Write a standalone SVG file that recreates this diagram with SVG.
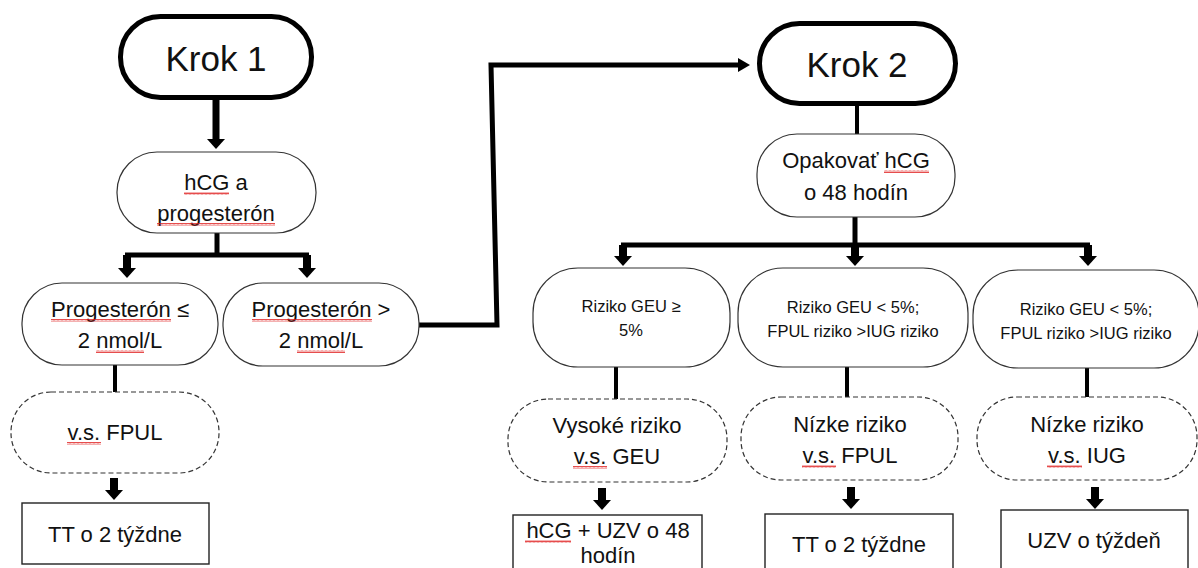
<svg xmlns="http://www.w3.org/2000/svg" width="1198" height="568" viewBox="0 0 1198 568">
<style>
text{font-family:"Liberation Sans",Arial,sans-serif;fill:#111;text-anchor:middle}
.k{font-size:35px}
.m{font-size:22px}
.s{font-size:16.5px}
.thick{fill:#fff;stroke:#000;stroke-width:5}
.thin{fill:#fff;stroke:#333;stroke-width:1.2}
.dash{fill:#fff;stroke:#333;stroke-width:1.2;stroke-dasharray:5 3}
.box{fill:#fff;stroke:#222;stroke-width:1.4}
.c{fill:none;stroke:#000;stroke-linejoin:miter}
.sq{fill:url(#wave)}
</style>
<defs>
<marker id="ah" viewBox="0 0 10 18" refX="0" refY="9" markerWidth="10" markerHeight="18" markerUnits="userSpaceOnUse" orient="auto">
<path d="M0,0 L10,9 L0,18 z" fill="#000"/>
</marker>
<marker id="ahs" viewBox="0 0 12 14" refX="0" refY="7" markerWidth="12" markerHeight="14" markerUnits="userSpaceOnUse" orient="auto">
<path d="M0,0 L12,7 L0,14 z" fill="#000"/>
</marker>
<pattern id="wave" width="4" height="3" patternUnits="userSpaceOnUse">
<path d="M0,2.5 L1,0.5 L2,2.5 L3,0.5 L4,2.5" fill="none" stroke="#e02020" stroke-width="0.8"/>
</pattern>
</defs>

<g id="connectors">
<path class="c" d="M216,100 V139" stroke-width="7" marker-end="url(#ah)"/>
<path class="c" d="M217,233 V255" stroke-width="5"/>
<path class="c" d="M125,255 H309" stroke-width="5"/>
<path class="c" d="M127,255 V268" stroke-width="8" marker-end="url(#ah)"/>
<path class="c" d="M307,255 V268" stroke-width="8" marker-end="url(#ah)"/>
<path class="c" d="M419,325 H497 L491,65 H738" stroke-width="5" marker-end="url(#ahs)"/>
<path class="c" d="M857,106 V134" stroke-width="4"/>
<path class="c" d="M855,217 V245" stroke-width="5"/>
<path class="c" d="M621,245 H1090" stroke-width="5"/>
<path class="c" d="M623,245 V256" stroke-width="8" marker-end="url(#ah)"/>
<path class="c" d="M855,245 V256" stroke-width="8" marker-end="url(#ah)"/>
<path class="c" d="M1088,245 V256" stroke-width="8" marker-end="url(#ah)"/>
<path class="c" d="M115,365 V392" stroke-width="4"/>
<path class="c" d="M114,478 V490" stroke-width="8" marker-end="url(#ah)"/>
<path class="c" d="M616,367 V399" stroke-width="4"/>
<path class="c" d="M847,367 V397" stroke-width="4"/>
<path class="c" d="M1087,368 V397" stroke-width="4"/>
<path class="c" d="M602,488 V500" stroke-width="8" marker-end="url(#ah)"/>
<path class="c" d="M851,487 V499" stroke-width="8" marker-end="url(#ah)"/>
<path class="c" d="M1095,487 V499" stroke-width="8" marker-end="url(#ah)"/>
</g>

<g id="krok1">
<rect class="thick" x="120.5" y="16.5" width="191" height="81" rx="40"/>
<text class="k" x="216" y="71">Krok 1</text>
</g>

<g id="hcg-progesteron">
<rect class="thin" x="117" y="152" width="199" height="81" rx="40"/>
<text class="m" x="216" y="190">hCG a</text>
<text class="m" x="216" y="221">progesterón</text>
<rect class="sq" x="184" y="192" width="45" height="3"/>
<rect class="sq" x="157" y="223" width="118" height="3"/>
</g>

<g id="prog-low">
<rect class="thin" x="22" y="283" width="196" height="82" rx="40"/>
<text class="m" x="120" y="317">Progesterón ≤</text>
<text class="m" x="120" y="348">2 nmol/L</text>
<rect class="sq" x="51" y="319" width="120" height="3"/>
<rect class="sq" x="96" y="350" width="48" height="3"/>
</g>

<g id="prog-high">
<rect class="thin" x="223" y="283" width="196" height="83" rx="40"/>
<text class="m" x="321" y="317">Progesterón &gt;</text>
<text class="m" x="321" y="348">2 nmol/L</text>
<rect class="sq" x="252" y="319" width="120" height="3"/>
<rect class="sq" x="297" y="350" width="48" height="3"/>
</g>

<g id="vs-fpul-left">
<rect class="dash" x="11" y="392" width="208" height="81" rx="40"/>
<text class="m" x="115" y="440">v.s. FPUL</text>
<rect class="sq" x="67" y="442" width="34" height="3"/>
</g>

<g id="tt-left">
<rect class="box" x="22" y="503" width="187" height="61"/>
<text class="m" x="115" y="542">TT o 2 týždne</text>
</g>

<g id="krok2">
<rect class="thick" x="759.5" y="23.5" width="196" height="80" rx="40"/>
<text class="k" x="857" y="77">Krok 2</text>
</g>

<g id="opakovat">
<rect class="thin" x="757" y="134" width="198" height="83" rx="40"/>
<text class="m" x="856" y="168">Opakovať hCG</text>
<text class="m" x="856" y="200">o 48 hodín</text>
<rect class="sq" x="884" y="170" width="45" height="3"/>
</g>

<g id="riziko-a">
<rect class="thin" x="533" y="268" width="197" height="99" rx="45"/>
<text class="s" x="631" y="312">Riziko GEU ≥</text>
<text class="s" x="631" y="336">5%</text>
</g>

<g id="riziko-b">
<rect class="thin" x="738" y="268" width="230" height="99" rx="45"/>
<text class="s" x="853" y="313">Riziko GEU &lt; 5%;</text>
<text class="s" x="853" y="337">FPUL riziko &gt;IUG riziko</text>
</g>

<g id="riziko-c">
<rect class="thin" x="973" y="270" width="226" height="98" rx="45"/>
<text class="s" x="1086" y="315">Riziko GEU &lt; 5%;</text>
<text class="s" x="1086" y="339">FPUL riziko &gt;IUG riziko</text>
</g>

<g id="vysoke-geu">
<rect class="dash" x="508" y="399" width="219" height="83" rx="40"/>
<text class="m" x="617" y="433">Vysoké riziko</text>
<text class="m" x="617" y="464">v.s. GEU</text>
<rect class="sq" x="573" y="466" width="34" height="3"/>
</g>

<g id="nizke-fpul">
<rect class="dash" x="741" y="397" width="217" height="83" rx="40"/>
<text class="m" x="850" y="432">Nízke riziko</text>
<text class="m" x="850" y="463">v.s. FPUL</text>
<rect class="sq" x="802" y="465" width="34" height="3"/>
</g>

<g id="nizke-iug">
<rect class="dash" x="977" y="397" width="220" height="83" rx="40"/>
<text class="m" x="1087" y="432">Nízke riziko</text>
<text class="m" x="1087" y="463">v.s. IUG</text>
<rect class="sq" x="1047" y="465" width="35" height="3"/>
</g>

<g id="hcg-uzv">
<rect class="box" x="513" y="515" width="189" height="60"/>
<text class="m" x="608" y="538">hCG + UZV o 48</text>
<text class="m" x="608" y="563">hodín</text>
<rect class="sq" x="525" y="540" width="46" height="3"/>
</g>

<g id="tt-mid">
<rect class="box" x="765" y="514" width="188" height="60"/>
<text class="m" x="859" y="552">TT o 2 týždne</text>
</g>

<g id="uzv-week">
<rect class="box" x="1001" y="510" width="187" height="64"/>
<text class="m" x="1094" y="548">UZV o týždeň</text>
</g>
</svg>
